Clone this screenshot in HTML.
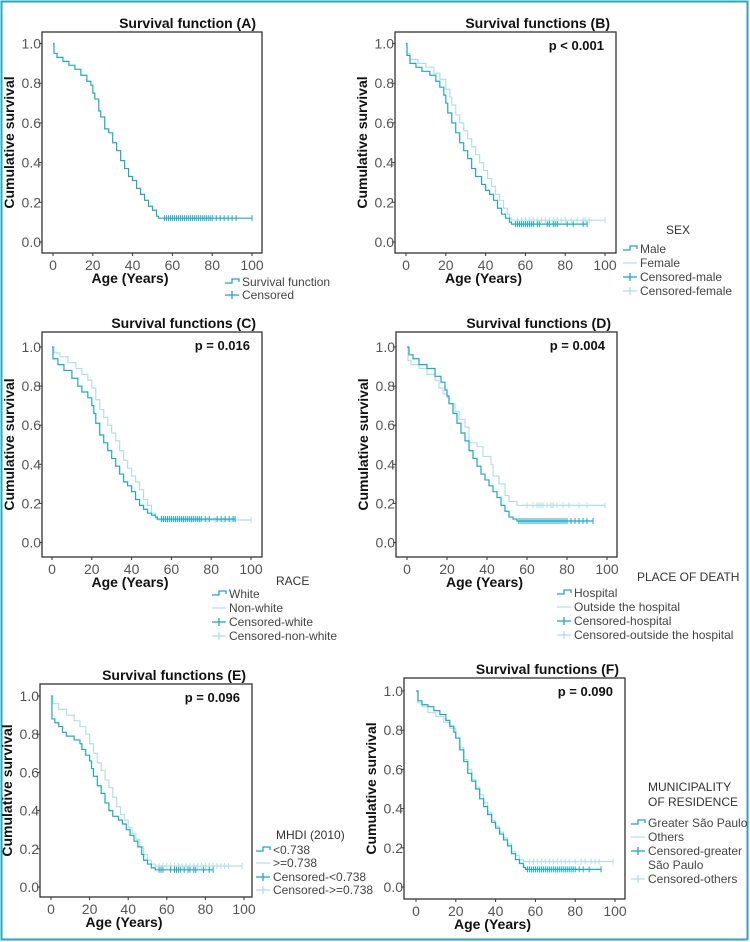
<!DOCTYPE html>
<html><head><meta charset="utf-8"><style>
html,body{margin:0;padding:0;background:#fff}
#wrap{position:relative;width:750px;height:942px;overflow:hidden}
svg text{font-family:"Liberation Sans",sans-serif}
</style></head><body>
<div id="wrap">
<svg id="fig" width="750" height="942" viewBox="0 0 750 942">
<rect x="1.5" y="1.5" width="746" height="938" fill="none" stroke="#2aa6bd" stroke-width="2"/>
</svg>
</div>
<script>
// ---- Data (times in years, cumulative survival) ----
const A_t=[0,0.5,2,5,8,11,14,17,19,20,21,23,24,26,28,30,32,34,36,38,40,42,44,46,48,50,52,53];
const A_s=[1,0.95,0.93,0.91,0.89,0.87,0.84,0.81,0.79,0.75,0.72,0.66,0.63,0.57,0.55,0.50,0.46,0.41,0.37,0.33,0.31,0.27,0.24,0.21,0.18,0.16,0.13,0.12];
const A_c=[56,57,58,59,60,61,62,63,64,65,66,67,68,69,70,71,72,73,74,75,76,77,78,79,80,82,84,86,88,90,92,100];

const Bm_t=[0,0.5,2,5,8,12,15,17,19,20,21,23,25,27,29,31,33,35,38,40,42,44,46,48,50,52,53];
const Bm_s=[1,0.94,0.90,0.88,0.86,0.84,0.81,0.78,0.74,0.70,0.65,0.60,0.55,0.50,0.46,0.42,0.37,0.33,0.29,0.26,0.24,0.21,0.17,0.14,0.12,0.10,0.09];
const Bm_c=[55,56,57,58,59,60,61,62,63,64,66,67,71,72,74,75,76,81,84,89,91];
const Bf_t=[0,0.5,2,6,10,14,17,20,22,23,25,27,29,31,33,35,37,39,41,43,45,47,49,51,52,53];
const Bf_s=[1,0.95,0.92,0.90,0.88,0.85,0.82,0.77,0.73,0.69,0.64,0.60,0.56,0.52,0.48,0.44,0.40,0.36,0.32,0.28,0.24,0.21,0.17,0.14,0.12,0.11];
const Bf_c=[56,58,60,62,64,66,68,70,72,74,76,78,80,83,86,89,90,92,100];

const Cw_t=[0,0.5,3,6,10,13,15,18,20,21,22,24,26,28,30,32,34,36,38,40,42,44,46,48,50,52,53];
const Cw_s=[1,0.94,0.91,0.88,0.84,0.80,0.77,0.74,0.70,0.66,0.61,0.55,0.51,0.47,0.43,0.39,0.35,0.31,0.29,0.26,0.22,0.19,0.17,0.15,0.14,0.13,0.12];
const Cw_c=[55,56,57,58,59,60,61,62,63,64,65,66,67,68,69,70,71,72,73,74,75,77,79,83,85,87,89,91,92];
const Cn_t=[0,1,4,8,12,15,18,20,22,24,26,28,30,32,34,36,38,40,42,44,46,48,50,52,53];
const Cn_s=[1,0.97,0.95,0.92,0.89,0.86,0.83,0.79,0.73,0.68,0.64,0.60,0.56,0.52,0.47,0.42,0.38,0.34,0.31,0.27,0.22,0.19,0.15,0.12,0.115];
const Cn_c=[58,62,66,70,74,78,82,86,90,100];

const Dh_t=[0,1,3,6,10,14,17,19,20,21,23,25,27,29,31,33,35,37,39,41,43,45,47,49,51,53,55];
const Dh_s=[1,0.96,0.94,0.91,0.89,0.85,0.82,0.78,0.75,0.71,0.66,0.61,0.56,0.52,0.47,0.43,0.39,0.35,0.32,0.29,0.26,0.23,0.19,0.16,0.13,0.12,0.11];
const Dh_c=[56,57,58,59,60,61,62,63,64,65,66,67,68,69,70,71,72,73,74,75,76,77,78,79,80,82,84,86,88,90,93];
const Do_t=[0,0.5,2,6,10,14,16,18,20,21,24,26,29,31,35,38,42,43,46,49,51,55];
const Do_s=[1,0.93,0.91,0.89,0.86,0.83,0.79,0.76,0.74,0.71,0.67,0.63,0.59,0.51,0.49,0.44,0.40,0.34,0.30,0.24,0.21,0.19];
const Do_c=[60,63,65,66,67,68,70,72,73,75,78,81,86,90,99];

const El_t=[0,0.5,2,4,6,8,12,15,16,18,20,21,22,24,26,28,30,32,35,37,39,41,43,45,47,48,50,52,54];
const El_s=[1,0.88,0.86,0.84,0.81,0.79,0.77,0.75,0.72,0.69,0.66,0.62,0.58,0.53,0.49,0.44,0.40,0.37,0.35,0.33,0.30,0.27,0.24,0.21,0.17,0.14,0.12,0.10,0.09];
const El_c=[56,57,58,62,64,65,66,67,69,71,72,74,75,79,82,84];
const Eh_t=[0,1,4,8,12,15,18,20,22,24,26,28,30,32,34,36,38,40,42,44,46,48,50,52,54];
const Eh_s=[1,0.96,0.93,0.90,0.87,0.84,0.80,0.75,0.70,0.65,0.61,0.56,0.52,0.47,0.42,0.38,0.35,0.31,0.28,0.25,0.21,0.17,0.14,0.12,0.11];
const Eh_c=[56,58,60,62,64,66,68,70,72,74,76,78,80,82,84,86,88,90,92,99];

const Fg_t=[0,1,3,6,9,12,15,17,19,20,22,24,26,28,30,32,34,36,38,40,42,44,46,48,50,52,54,55];
const Fg_s=[1,0.95,0.93,0.92,0.90,0.88,0.85,0.82,0.79,0.76,0.70,0.64,0.58,0.54,0.50,0.45,0.41,0.37,0.33,0.30,0.27,0.24,0.21,0.17,0.14,0.12,0.10,0.09];
const Fg_c=[56,57,58,59,60,61,62,63,64,65,66,67,68,69,70,71,72,73,74,75,76,77,78,79,80,82,84,87,93];
const Fo_t=[0,1,3,6,10,14,17,20,22,24,26,28,30,32,34,36,38,40,42,44,46,48,50,52,54];
const Fo_s=[1,0.94,0.92,0.89,0.87,0.84,0.81,0.76,0.71,0.65,0.60,0.55,0.51,0.47,0.43,0.38,0.34,0.31,0.28,0.25,0.22,0.18,0.16,0.14,0.13];
const Fo_c=[57,59,61,63,65,67,69,71,73,75,77,80,83,85,88,90,92,99];

const yTicks=["0.0","0.2","0.4","0.6","0.8","1.0"];
const xTicks=["0","20","40","60","80","100"];

const DARK="#1fa8c2", LIGHT="#b3dfe8";
const NS="http://www.w3.org/2000/svg";
const fig=document.getElementById('fig');
function mk(tag,attrs,parent,txt){const e=document.createElementNS(NS,tag);for(const k in attrs)e.setAttribute(k,attrs[k]);if(txt!==undefined)e.textContent=txt;(parent||fig).appendChild(e);return e;}

function panel(p){
  const g=mk('g',{});
  
  
  const sx=v=>p.x0+(p.x100-p.x0)*v/100;
  const sy=v=>p.y0+(p.y1-p.y0)*v;
  const fr=mk('rect',{x:p.L,y:p.T,width:p.R-p.L,height:p.B-p.T,fill:'none',stroke:'#333','stroke-width':1.3},g);
  
  
  const ti=mk('text',{x:p.R-6,y:p.T-4,'text-anchor':'end','font-size':14,'font-weight':'bold',fill:'#111'},g,p.title);
  
  
  if(p.pv){const pt=mk('text',{x:p.R-12,y:p.T+18,'text-anchor':'end','font-size':13,'font-weight':'bold',fill:'#111'},g,p.pv);
    
    }
  yTicks.forEach((lb,i)=>{const v=parseFloat(lb);const y=sy(v);
    mk('line',{x1:p.L-3,x2:p.L,y1:y,y2:y,stroke:'#333'},g);
    const t=mk('text',{x:p.L-1,y:y+5,'text-anchor':'end','font-size':14,fill:'#555'},g,lb);
    
    });
  xTicks.forEach(lb=>{const x=sx(parseFloat(lb));
    mk('line',{x1:x,x2:x,y1:p.B,y2:p.B+3,stroke:'#333'},g);
    const t=mk('text',{x:x,y:p.B+17,'text-anchor':'middle','font-size':14,fill:'#555'},g,lb);
    
    });
  const xt=mk('text',{x:(p.L+p.R)/2-22,y:p.B+30,'text-anchor':'middle','font-size':14,'font-weight':'bold',fill:'#111'},g,'Age (Years)');
  
  
  const cy=(p.T+p.B)/2;
  const yt=mk('text',{x:0,y:0,transform:`translate(${p.L-28},${cy}) rotate(-90)`,'text-anchor':'middle','font-size':14,'font-weight':'bold',fill:'#111'},g,'Cumulative survival');
  
  
  p.series.slice().reverse().forEach(s=>{
    let d=`M${sx(s.t[0])},${sy(s.s[0])}`;
    for(let i=1;i<s.t.length;i++){d+=` H${sx(s.t[i])} V${sy(s.s[i])}`;}
    const last=s.s[s.s.length-1];
    d+=` H${sx(s.c[s.c.length-1])}`;
    const path=mk('path',{d:d,fill:'none',stroke:s.col,'stroke-width':1.2},g);
    
    
    s.c.forEach(ct=>{const x=sx(ct),y=sy(last);
      const m=mk('line',{x1:x,x2:x,y1:y-3,y2:y+3,stroke:s.col,'stroke-width':1},g);
      
      });
  });
  if(p.head){p.head.forEach((h,i)=>{const t=mk('text',{x:p.hx,y:p.hy+i*15,'font-size':12,fill:'#333'},g,h);
    
    });}
  p.legend.forEach((it,i)=>{
    const y=p.ly[i];const x=p.lx;
    const lg=mk('g',{},g);
    
    
    const col=it.k%2===0?DARK:LIGHT;
    if(it.k===0){mk('path',{d:`M${x-17},${y-3} H${x-10} V${y-7} H${x-3} V${y-4}`,fill:'none',stroke:DARK,'stroke-width':1.3},lg);}
    else if(it.k===1){mk('line',{x1:x-17,x2:x-3,y1:y-4,y2:y-4,stroke:LIGHT,'stroke-width':1.2},lg);}
    else if(it.k>=2){mk('line',{x1:x-17,x2:x-3,y1:y-4,y2:y-4,stroke:col,'stroke-width':1.3},lg);
      mk('line',{x1:x-10,x2:x-10,y1:y-8,y2:y,stroke:col,'stroke-width':1.3},lg);}
    if(it.txt)mk('text',{x:x,y:y,'font-size':12,fill:'#444'},lg,it.txt);
    if(it.txt2)mk('text',{x:x,y:y+14,'font-size':12,fill:'#444'},lg,it.txt2);
  });
}

panel({id:'a',title:'Survival function (A)',L:42,R:262,T:32,B:253,x0:53,x100:252,y0:242,y1:43.5,
  series:[{name:'survival',t:A_t,s:A_s,c:A_c,col:DARK}],
  lx:242,ly:[286,299],legend:[{k:0,txt:'Survival function'},{k:2,txt:'Censored'}]});
panel({id:'b',title:'Survival functions (B)',pv:'p < 0.001',L:395,R:616,T:32,B:253,x0:406,x100:605,y0:242,y1:43.5,
  series:[{name:'male',t:Bm_t,s:Bm_s,c:Bm_c,col:DARK},{name:'female',t:Bf_t,s:Bf_s,c:Bf_c,col:LIGHT}],
  head:['SEX'],hx:666,hy:234,
  lx:640,ly:[253,267,281,295],legend:[{k:0,txt:'Male'},{k:1,txt:'Female'},{k:2,txt:'Censored-male'},{k:3,txt:'Censored-female'}]});
panel({id:'c',title:'Survival functions (C)',pv:'p = 0.016',L:42,R:262,T:332,B:557,x0:52,x100:251,y0:542.5,y1:347,
  series:[{name:'white',t:Cw_t,s:Cw_s,c:Cw_c,col:DARK},{name:'non-white',t:Cn_t,s:Cn_s,c:Cn_c,col:LIGHT}],
  head:['RACE'],hx:276,hy:585,
  lx:229,ly:[598,612,626,640],legend:[{k:0,txt:'White'},{k:1,txt:'Non-white'},{k:2,txt:'Censored-white'},{k:3,txt:'Censored-non-white'}]});
panel({id:'d',title:'Survival functions (D)',pv:'p = 0.004',L:396,R:617,T:332,B:557,x0:407,x100:607,y0:542.5,y1:347,
  series:[{name:'hospital',t:Dh_t,s:Dh_s,c:Dh_c,col:DARK},{name:'outside',t:Do_t,s:Do_s,c:Do_c,col:LIGHT}],
  head:['PLACE OF DEATH'],hx:637,hy:581,
  lx:574,ly:[597,611,625,639],legend:[{k:0,txt:'Hospital'},{k:1,txt:'Outside the hospital'},{k:2,txt:'Censored-hospital'},{k:3,txt:'Censored-outside the hospital'}]});
panel({id:'e',title:'Survival functions (E)',pv:'p = 0.096',L:40,R:252,T:684,B:897,x0:51,x100:244,y0:887,y1:696,
  series:[{name:'low-mhdi',t:El_t,s:El_s,c:El_c,col:DARK},{name:'high-mhdi',t:Eh_t,s:Eh_s,c:Eh_c,col:LIGHT}],
  head:['MHDI (2010)'],hx:276,hy:839,
  lx:273,ly:[854,867,881,894],legend:[{k:0,txt:'<0.738'},{k:1,txt:'>=0.738'},{k:2,txt:'Censored-<0.738'},{k:3,txt:'Censored->=0.738'}]});
panel({id:'f',title:'Survival functions (F)',pv:'p = 0.090',L:404,R:625,T:678,B:899,x0:416,x100:615,y0:887,y1:691,
  series:[{name:'greater-sao-paulo',t:Fg_t,s:Fg_s,c:Fg_c,col:DARK},{name:'others',t:Fo_t,s:Fo_s,c:Fo_c,col:LIGHT}],
  head:['MUNICIPALITY','OF RESIDENCE'],hx:648,hy:791,
  lx:648,ly:[827,841,855,883],legend:[{k:0,txt:'Greater São Paulo'},{k:1,txt:'Others'},{k:2,txt:'Censored-greater',txt2:'São Paulo'},{k:3,txt:'Censored-others'}]});
</script>
</body></html>
